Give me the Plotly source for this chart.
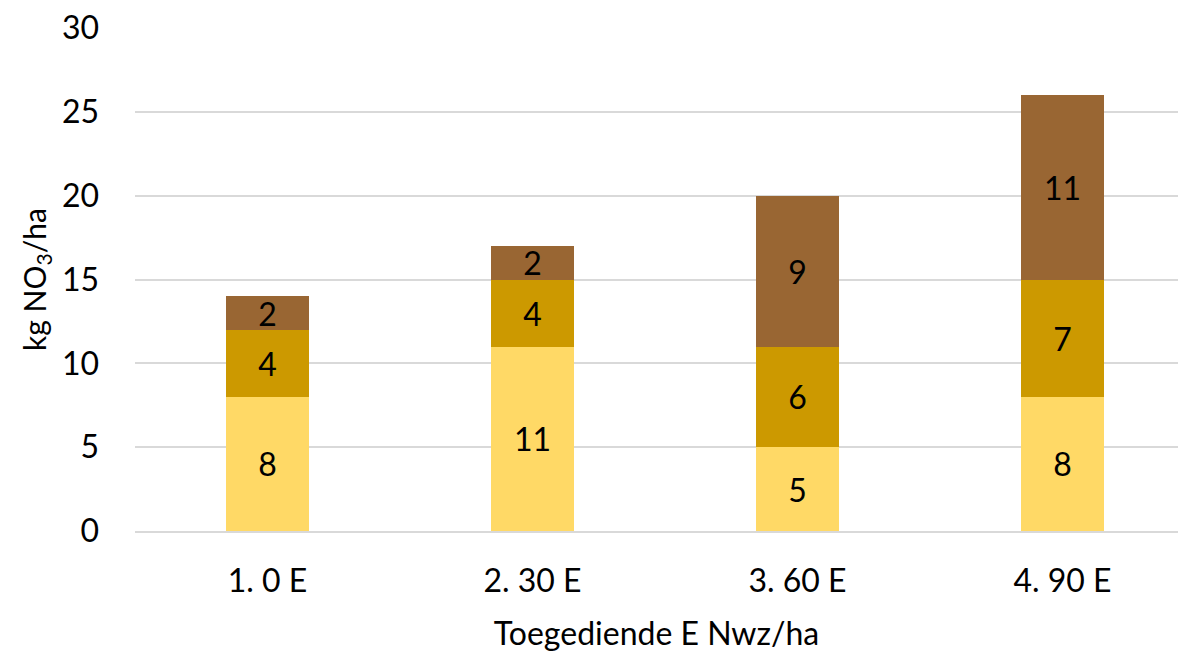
import plotly.graph_objects as go

categories = ['1. 0 E', '2. 30 E', '3. 60 E', '4. 90 E']
laag = [8, 11, 5, 8]
midden = [4, 4, 6, 7]
hoog = [2, 2, 9, 11]

kleuren = ['#FFD966', '#CC9900', '#996633']
font = 'Lato, Open Sans, sans-serif'

fig = go.Figure()
for vals, kleur in zip([laag, midden, hoog], kleuren):
    fig.add_trace(go.Bar(
        x=categories,
        y=vals,
        text=vals,
        textposition='inside',
        insidetextanchor='middle',
        textangle=0,
        constraintext='none',
        textfont=dict(family=font, size=32, color='black'),
        marker=dict(color=kleur, line=dict(width=0)),
        width=0.313,
        showlegend=False,
    ))

fig.update_layout(
    barmode='stack',
    width=1178, height=652,
    plot_bgcolor='white', paper_bgcolor='white',
    margin=dict(l=135, r=0, t=28, b=121),
    font=dict(family=font, size=32, color='black'),
)
fig.update_yaxes(
    range=[0, 30], dtick=5,
    showgrid=True, gridcolor='#D9D9D9', gridwidth=1.5,
    zeroline=False, showline=False, ticks='',
    tickfont=dict(size=32), ticklabelstandoff=35,
    title=dict(text='kg NO<sub>3</sub>/ha', font=dict(size=30), standoff=6),
)
# plot loopt rechts door tot buiten beeld, zoals in het origineel
fig.update_xaxes(
    range=[-0.5, 3.436],
    showline=True, linecolor='#D9D9D9', linewidth=1.5,
    ticks='', tickfont=dict(size=32), ticklabelstandoff=21,
    title=dict(text='Toegediende E Nwz/ha', font=dict(size=32), standoff=27),
)

# body-marge weg zodat de figuur precies in het venster past
fig.write_html('out.html', config={'displayModeBar': False},
               post_script="document.body.style.margin='0px';")
